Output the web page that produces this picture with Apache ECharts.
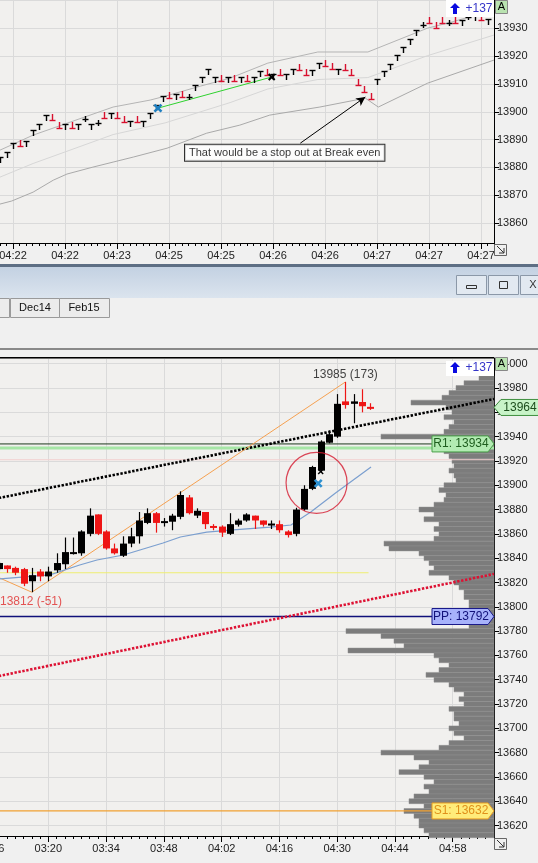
<!DOCTYPE html>
<html><head><meta charset="utf-8">
<script src="https://cdn.jsdelivr.net/npm/echarts@6/dist/echarts.min.js"></script>
<style>html,body{margin:0;padding:0;background:#f0f0f0;overflow:hidden}#c{width:538px;height:863px}</style>
</head><body><div id="c"></div>
<script>
// ---------------- TOP PANEL DATA ----------------
const topTickLabels = ['04:22','04:22','04:23','04:25','04:25','04:26','04:26','04:27','04:27','04:27'];
const topTickSlots  = [2,10,18,26,34,42,50,58,66,74];
// bar glyph level (price) and glyph type: T = up (black), L = down (red), + = doji
const topPrice = [13882.6,13884.4,13887.7,13888.7,13888.4,13892.3,13894.5,13897.7,13898.1,13895.2,
  13894.5,13895.2,13894.5,13897.4,13894.5,13895.9,13898.8,13898.5,13898.8,13897.4,
  13895.6,13897.4,13895.6,13898.5,13901.3,13904.6,13906.0,13905.3,13906.4,13905.3,
  13908.5,13911.4,13914.3,13911.4,13912.1,13911.4,13912.1,13911.4,13912.1,13911.4,
  13913.6,13914.3,13912.5,13914.3,13912.5,13914.3,13916.1,13914.3,13913.9,13916.4,
  13917.5,13916.4,13914.3,13916.1,13914.3,13910.7,13908.2,13905.6,13910.7,13913.6,
  13916.1,13919.3,13922.2,13925.1,13928.3,13931.2,13933.0,13931.2,13933.0,13931.9,
  13933.0,13931.9,13934.1,13933.7,13934.1,13932.3];
const topType = ['T','T','T','L','T','T','T','T','L','L','T','L','T','+','T','+','L','T','L','L',
  'T','L','T','T','T','T','L','T','L','+','T','T','T','T','L','T','L','T','L','T',
  'T','L','T','L','T','T','L','L','T','T','L','L','T','L','L','L','L','L','T','T',
  'T','T','T','T','T','+','L','L','L','+','L','T','+','T','L','T'];
const bandUpper = [[0,13886.2],[5.1,13891.6],[17.4,13901.7],[23.1,13904.2],[25.4,13905.6],[30.8,13909.2],[35.4,13912.1],[41.2,13917.5],[48.9,13921.5],[56.6,13921.5],[65.8,13930.1],[68.9,13931.9],[76,13936.6]];
const bandMid   = [[0,13876.5],[5.1,13881.4],[17.4,13891.8],[25.4,13896],[35.4,13903.3],[41.2,13908.2],[48.9,13911.6],[56.6,13912.3],[65.8,13920.2],[76,13927.6]];
const bandLower = [[0,13866.8],[1.8,13867.9],[5.1,13871.1],[8.2,13875.4],[10.3,13877.6],[14.3,13880.1],[17.4,13881.9],[20.5,13883.7],[25.7,13886.9],[31.8,13892.3],[36.9,13895.2],[41.5,13898.8],[49.2,13901.7],[56.2,13904.9],[58.2,13901.7],[65.8,13910.3],[76,13918.6]];
const topTrade = [[24.3,13901.3],[41.8,13912.5]];          // entry -> exit
const topArrow = [[46.2,13888.7],[56.2,13905.3]];
const topNote = {x:43.8, y:13885.3, text:'That would be a stop out at Break even'};

// ---------------- BOTTOM PANEL DATA ----------------
const botTickLabels = ['03:06','03:20','03:34','03:48','04:02','04:16','04:30','04:44','04:58'];
const botTickSlots  = [0,7,14,21,28,35,42,49,56];
// candles: [open, close, low, high]
const candles = [
 [13831,13836,13830,13837],[13834,13831,13828,13834],[13832,13828,13826,13833],[13831,13819,13817,13832],
 [13821,13826,13812,13832],[13829,13825,13821,13831],[13825,13829,13821,13833],[13830,13836,13828,13844],
 [13835,13845,13831,13857],[13844,13845,13843,13857],[13844,13862,13842,13863],[13860,13875,13858,13881],
 [13876,13860,13859,13876],[13862,13848,13847,13863],[13848,13844,13843,13852],[13842,13852,13841,13858],
 [13852,13858,13849,13865],[13858,13871,13852,13878],[13869,13877,13868,13881],[13877,13869,13861,13878],
 [13870,13870.5,13866,13873],[13870,13875,13863,13876.5],[13874,13892,13872,13895],[13890,13877,13876,13892],
 [13875,13879,13873,13881],[13878,13868,13864,13878],[13866.5,13866,13863,13868],[13866,13861,13857.5,13867],
 [13860,13868,13859,13877],[13867.5,13871,13866,13872.5],[13871,13876,13870,13877],[13875,13871,13864,13875],
 [13871,13867.5,13866,13871],[13868,13868.5,13864,13871],[13868,13863,13861,13871],[13862,13859,13857,13863],
 [13860,13880,13858,13881.5],[13880,13897,13879,13900],[13897,13915,13896,13916],[13912,13936,13910.5,13937],
 [13935,13942,13934.5,13945],[13940,13967,13939,13975],[13969,13966,13963,13985],[13967,13969,13951,13975],
 [13968.5,13965,13960,13979],[13964.5,13964,13962,13967.5]];
const maLine = [[0.15,13822.9],[6.2,13826.2],[9.8,13834.4],[11.9,13838.5],[15.1,13842.6],[17.1,13846.7],[19.9,13852.5],[22,13857.4],[25.2,13861.5],[28.4,13863.2],[32.9,13865.6],[35.4,13867.3],[37.8,13878],[40.8,13893.6],[45.1,13915]];
const zigzag = [[0,13824],[4,13812],[42,13985]];
const blackTrend = [[0,13889.5],[60,13971]];
const redTrend = [[0,13743],[60,13827]];
const yellowLine = [[-1,13828],[44.8,13828]];
const levels = {R1:13934, PP:13792, S1:13632};
const r1Band = 13930.6, pinkLevel = 13921, lastPrice = 13964;
const circleAt = [38.5,13902];
const entryBot = [38.7,13901.5], exitBot = [39,13911.3];
const lowLabel = {x:3.9, y:13804, text:'13812 (-51)'};
const highLabel = {x:42, y:13991, text:'13985 (173)'};
// volume profile rows: [price, length]
const profile = [
 [13988,15],[13984,30],[13980,38],[13976,45],[13972,52],[13968,83],[13964,48],[13960,42],[13956,50],[13952,40],
 [13948,45],[13944,50],[13940,113],[13936,60],[13932,55],[13928,50],[13924,45],[13920,42],[13916,40],[13912,45],
 [13908,40],[13904,38],[13900,50],[13896,55],[13892,48],[13888,50],[13884,60],[13880,75],[13876,60],[13872,70],
 [13868,55],[13864,60],[13860,55],[13856,60],[13852,110],[13848,105],[13844,75],[13840,70],[13836,65],[13832,60],
 [13828,65],[13824,45],[13820,40],[13816,35],[13812,30],[13808,30],[13804,25],[13800,25],[13796,25],[13792,20],
 [13788,20],[13784,25],[13780,148],[13776,113],[13772,100],[13768,90],[13764,146],[13760,60],[13756,55],[13752,45],
 [13748,55],[13744,68],[13740,60],[13736,45],[13732,40],[13728,30],[13724,35],[13720,30],[13716,45],[13712,40],
 [13708,40],[13704,35],[13700,45],[13696,40],[13692,30],[13688,45],[13684,55],[13680,113],[13676,80],[13672,65],
 [13668,75],[13664,95],[13660,70],[13656,60],[13652,70],[13648,65],[13644,80],[13640,85],[13636,70],[13632,90],
 [13628,80],[13624,75],[13620,75],[13616,70],[13612,65]];

// ---------------- build ----------------
const FONT = 'Liberation Sans';
const topCats = []; for (let i=0;i<=76;i++) topCats.push('t'+i);
const botCats = []; for (let i=0;i<62;i++) botCats.push('b'+i);
const topLab = {}; topTickSlots.forEach((s,k)=>topLab['t'+s]=topTickLabels[k]);
const botLab = {}; botTickSlots.forEach((s,k)=>botLab['b'+s]=botTickLabels[k]);
const isTopMajor = i => topTickSlots.indexOf(i) >= 0;
const isBotMajor = i => botTickSlots.indexOf(i) >= 0;

const chart = echarts.init(document.getElementById('c'));
const gridLineColor = '#dadada';

function catAxis(grid, cats, lab, isMajor, major){
  return {
    type:'category', gridIndex:grid, position:'bottom', data:cats, boundaryGap:false,
    axisLine:{show:!major, onZero:false, lineStyle:{color:'#000'}},
    axisTick:{show:true, interval: major ? ((i)=>isMajor(i)) : 0, length: major?6:3, lineStyle:{color:'#000'}},
    axisLabel:{show:!major, interval:(i)=>isMajor(i), formatter:(v)=>lab[v]||'', color:'#222', fontFamily:FONT, fontSize:11, margin:7},
    splitLine:{show:!major, interval:(i)=>isMajor(i), lineStyle:{color:gridLineColor}}
  };
}
function priceAxis(grid, min, max, split, hideAbove){
  return {type:'value', gridIndex:grid, position:'right', min, max, splitNumber:split,
    axisLine:{show:true, onZero:false, lineStyle:{color:'#000'}}, axisTick:{show:true, length:5, lineStyle:{color:'#000'}},
    axisLabel:{color:'#222', fontFamily:FONT, fontSize:11, margin:3, showMinLabel:false, showMaxLabel:false,
      formatter:(v)=> (v>hideAbove ? '' : String(Math.round(v)))},
    splitLine:{lineStyle:{color:gridLineColor}}};
}

const glyph = (params, api) => {
  const i = api.value(0), p = api.value(1), t = topType[params.dataIndex];
  const c = api.coord([i,p]); const x = Math.round(c[0])+0.5, y = Math.round(c[1]);
  const col = t==='L' ? '#d8102e' : '#000';
  let hy = t==='T' ? y-3 : (t==='L' ? y+3 : y);
  return {type:'group', children:[
    {type:'line', shape:{x1:x,y1:y-3,x2:x,y2:y+3}, style:{stroke:col,lineWidth:1.4}},
    {type:'line', shape:{x1:x-3,y1:hy+0.5,x2:x+3,y2:hy+0.5}, style:{stroke:col,lineWidth:1.4}}
  ]};
};
const xMark = (color, size, lw) => (params, api) => {
  const c = api.coord([api.value(0), api.value(1)]);
  return {type:'group', children:[
    {type:'line', shape:{x1:c[0]-size,y1:c[1]-size,x2:c[0]+size,y2:c[1]+size}, style:{stroke:color,lineWidth:lw}},
    {type:'line', shape:{x1:c[0]-size,y1:c[1]+size,x2:c[0]+size,y2:c[1]-size}, style:{stroke:color,lineWidth:lw}}
  ]};
};
const candle = (params, api) => {
  const i=api.value(0), o=api.value(1), cl=api.value(2), lo=api.value(3), hi=api.value(4);
  const pO=api.coord([i,o]), pC=api.coord([i,cl]), pL=api.coord([i,lo]), pH=api.coord([i,hi]);
  const up = cl>=o, col = up ? '#000' : '#ee1515';
  const x = Math.round(pO[0])+0.5;
  const top = Math.min(pO[1],pC[1]); const h = Math.max(Math.abs(pO[1]-pC[1]), 2);
  return {type:'group', children:[
    {type:'line', shape:{x1:x,y1:pH[1],x2:x,y2:pL[1]}, style:{stroke:col,lineWidth:1.2}},
    {type:'rect', shape:{x:x-3.5,y:top,width:7,height:h}, style:{fill:col}}
  ]};
};
const profRow = (params, api) => {
  const p=api.value(0), len=api.value(1);
  const a=api.coord([len,p+2]), b=api.coord([0,p-2]);
  return {type:'rect', shape:{x:a[0],y:a[1],width:b[0]-a[0],height:b[1]-a[1]}, style:{fill:'#7c7c7c', stroke:'#8e8e8e', lineWidth:0.5}};
};
const lineS = (x,y,data,color,w,type,z) => ({type:'line', xAxisIndex:x, yAxisIndex:y, data, symbol:'none', silent:true, z:z||3,
  lineStyle:{color, width:w, type:type||'solid'}, animation:false});
const labelS = (x,y,pt,color,extra) => ({type:'scatter', xAxisIndex:x, yAxisIndex:y, symbolSize:1, itemStyle:{color:'transparent'}, z:8,
  data:[[pt.x,pt.y]], label:Object.assign({show:true, position:'inside', formatter:pt.text, color, fontFamily:FONT, fontSize:12}, extra||{})});

const option = {
  animation:false,
  backgroundColor:'#f0f0f0',
  grid:[
    {left:0, right:44, top:0, height:243, show:true, backgroundColor:'#f1f0ee', borderWidth:0, outerBoundsMode:'none', containLabel:false},
    {left:-9.45, right:44, top:358, height:478, show:true, backgroundColor:'#f1f0ee', borderWidth:0, outerBoundsMode:'none', containLabel:false}
  ],
  xAxis:[
    catAxis(0, topCats, topLab, isTopMajor, false),
    catAxis(0, topCats, topLab, isTopMajor, true),
    {type:'value', gridIndex:0, min:0, max:76, show:false, position:'bottom'},
    catAxis(1, botCats, botLab, isBotMajor, false),
    catAxis(1, botCats, botLab, isBotMajor, true),
    {type:'value', gridIndex:1, min:-1, max:60, show:false, position:'bottom'},
    {type:'value', gridIndex:1, min:0, max:503.45, inverse:true, show:false, position:'top'}
  ],
  yAxis:[
    priceAxis(0, 13852.8, 13940.2, 9, 13935),
    priceAxis(1, 13611.4, 14004.7, 20, 14001)
  ],
  series:[
    // top panel
    lineS(2,0,bandLower,'#a9a9a9',1),
    lineS(2,0,bandMid,'#d6d6d6',1),
    lineS(2,0,bandUpper,'#b4b4b4',1),
    lineS(2,0,topTrade,'#2fd22f',1,'solid',4),
    {type:'custom', xAxisIndex:2, yAxisIndex:0, renderItem:glyph, z:5, data:topPrice.map((p,i)=>[i,p])},
    {type:'custom', xAxisIndex:2, yAxisIndex:0, renderItem:xMark('#1f7fc0',3.5,2.6), z:6, data:[topTrade[0]]},
    {type:'custom', xAxisIndex:2, yAxisIndex:0, renderItem:xMark('#000',3,2), z:6, data:[topTrade[1]]},
    {type:'line', xAxisIndex:2, yAxisIndex:0, data:[], z:6,
     markLine:{silent:true, symbol:['none','arrow'], symbolSize:[7,9], label:{show:false},
       lineStyle:{color:'#000', width:1, type:'solid'},
       data:[[{coord:topArrow[0]},{coord:topArrow[1]}]]}},
    labelS(2,0,topNote,'#000',{fontSize:11, backgroundColor:'#fff', borderColor:'#000', borderWidth:1, padding:[3,4,2,4]}),
    // bottom panel
    {type:'custom', xAxisIndex:6, yAxisIndex:1, renderItem:profRow, encode:{x:1,y:0}, z:1, data:profile},
    lineS(5,1,[[-1,pinkLevel],[60,pinkLevel]],'#f3d0d0',1,'solid',2),
    lineS(5,1,[[-1,r1Band],[60,r1Band]],'#a6e6a6',3,'solid',2),
    lineS(5,1,[[-1,levels.R1],[60,levels.R1]],'#1e3a1e',1,'solid',2),
    lineS(5,1,[[-1,levels.PP],[60,levels.PP]],'#10107a',1.3,'solid',2),
    lineS(5,1,[[-1,levels.S1],[60,levels.S1]],'#f0a030',1.3,'solid',2),
    lineS(5,1,yellowLine,'#eeee70',1,'solid',2),
    lineS(5,1,blackTrend,'#000',2.6,[2.4,1.6],3),
    lineS(5,1,redTrend,'#dd1133',2.6,[2.4,1.6],3),
    lineS(5,1,zigzag,'#f5a050',1,'solid',3),
    lineS(5,1,maLine,'#7b9fcf',1.2,'solid',3),
    {type:'custom', xAxisIndex:5, yAxisIndex:1, renderItem:candle, z:5, data:candles.map((c,i)=>[i].concat(c))},
    {type:'scatter', xAxisIndex:5, yAxisIndex:1, z:7, symbol:'circle', symbolSize:61, data:[circleAt],
     itemStyle:{color:'transparent', borderColor:'#d41a30', borderWidth:1.2}},
    {type:'custom', xAxisIndex:5, yAxisIndex:1, renderItem:xMark('#2a8fd0',3.5,2.6), z:8, data:[entryBot]},
    {type:'custom', xAxisIndex:5, yAxisIndex:1, renderItem:xMark('#000',2.5,1.4), z:8, data:[exitBot]},
    labelS(5,1,lowLabel,'#e02a2a'),
    labelS(5,1,highLabel,'#111')
  ]
};
chart.setOption(option);

// ---------- graphics: window chrome + level tags ----------
const Y1 = v => chart.convertToPixel({yAxisIndex:1}, v);
const Z = 60;
function txt(x,y,text,fill,size,align){
  return {type:'text', z:Z+2, x, y, style:{text, fill, font:(size||12)+'px '+FONT, textAlign:align||'center', textVerticalAlign:'middle'}};
}
function tagRight(y, text, fill, stroke, color){
  return [
    {type:'polygon', z:Z, shape:{points:[[432,y-8],[488,y-8],[494,y],[488,y+8],[432,y+8]]}, style:{fill, stroke, lineWidth:1}},
    txt(461, y, text, color, 12)
  ];
}
const yl = Y1(lastPrice);
const g = [
  // top panel extras
  {type:'rect', z:Z, shape:{x:446,y:0,width:48,height:17}, style:{fill:'#fff'}},
  {type:'polygon', z:Z+1, shape:{points:[[455,3],[460,8],[457,8],[457,14],[453,14],[453,8],[450,8]]}, style:{fill:'#0a0ae0'}},
  txt(479, 9, '+137', '#3535c8', 12),
  {type:'rect', z:Z+1, shape:{x:495.5,y:0.5,width:12,height:13}, style:{fill:'#b9e3b0', stroke:'#888'}},
  txt(501.5, 7, 'A', '#000', 11),
  {type:'rect', z:Z+1, shape:{x:494.5,y:244.5,width:12,height:11}, style:{fill:'#f0f0f0', stroke:'#666'}},
  {type:'line', z:Z+2, shape:{x1:497,y1:246,x2:504,y2:253}, style:{stroke:'#333', lineWidth:1}},
  {type:'polyline', z:Z+2, shape:{points:[[499,253],[504,253],[504,248]]}, style:{stroke:'#333', lineWidth:1}},
  // window chrome
  {type:'rect', z:Z, shape:{x:0,y:264,width:538,height:3}, style:{fill:'#5d6e84'}},
  {type:'rect', z:Z, shape:{x:0,y:267,width:538,height:31}, style:{fill:new echarts.graphic.LinearGradient(0,0,0,1,[{offset:0,color:'#c3d1e2'},{offset:1,color:'#dbe4ee'}])}},
  {type:'rect', z:Z+1, shape:{x:456.5,y:275.5,width:30,height:19}, style:{fill:'#e2e9f1', stroke:'#8b98a8'}},
  {type:'rect', z:Z+2, shape:{x:466.5,y:285.5,width:10,height:3}, style:{fill:'none', stroke:'#333'}},
  {type:'rect', z:Z+1, shape:{x:488.5,y:275.5,width:30,height:19}, style:{fill:'#e2e9f1', stroke:'#8b98a8'}},
  {type:'rect', z:Z+2, shape:{x:499.5,y:281.5,width:8,height:7}, style:{fill:'none', stroke:'#333'}},
  {type:'rect', z:Z+1, shape:{x:520.5,y:275.5,width:30,height:19}, style:{fill:'#e2e9f1', stroke:'#8b98a8'}},
  txt(533, 285, 'X', '#333', 11),
  {type:'rect', z:Z, shape:{x:-10.5,y:298.5,width:20,height:19}, style:{fill:'#ececec', stroke:'#9a9a9a'}},
  {type:'rect', z:Z, shape:{x:10.5,y:298.5,width:49,height:19}, style:{fill:'#ececec', stroke:'#9a9a9a'}},
  txt(35, 308, 'Dec14', '#111', 11),
  {type:'rect', z:Z, shape:{x:59.5,y:298.5,width:50,height:19}, style:{fill:'#ececec', stroke:'#9a9a9a'}},
  txt(84, 308, 'Feb15', '#111', 11),
  {type:'rect', z:Z, shape:{x:0,y:348,width:538,height:2}, style:{fill:'#8a8a8a'}},
  {type:'rect', z:Z, shape:{x:0,y:357,width:494,height:1.5}, style:{fill:'#000'}},
  // bottom panel extras
  {type:'rect', z:Z, shape:{x:446,y:361,width:48,height:15}, style:{fill:'#fff'}},
  {type:'polygon', z:Z+1, shape:{points:[[455,362],[460,367],[457,367],[457,373],[453,373],[453,367],[450,367]]}, style:{fill:'#0a0ae0'}},
  txt(479, 368, '+137', '#3535c8', 12),
  {type:'rect', z:Z+1, shape:{x:495.5,y:357.5,width:12,height:13}, style:{fill:'#b9e3b0', stroke:'#888'}},
  txt(501.5, 364, 'A', '#000', 11),
  {type:'rect', z:Z+1, shape:{x:494.5,y:838.5,width:12,height:11}, style:{fill:'#f0f0f0', stroke:'#666'}},
  {type:'line', z:Z+2, shape:{x1:497,y1:840,x2:504,y2:847}, style:{stroke:'#333', lineWidth:1}},
  {type:'polyline', z:Z+2, shape:{points:[[499,847],[504,847],[504,842]]}, style:{stroke:'#333', lineWidth:1}}
].concat(
  tagRight(Y1(levels.R1), 'R1: 13934', '#b3ebb3', '#4aa04a', '#1f5e1f'),
  tagRight(Y1(levels.PP), 'PP: 13792', '#a7b2fb', '#1a1a8a', '#12127a'),
  tagRight(Y1(levels.S1), 'S1: 13632', '#ffec7a', '#e79a20', '#e0901a'),
  [{type:'polygon', z:Z, shape:{points:[[494,yl],[501,yl-8],[540,yl-8],[540,yl+8],[501,yl+8]]}, style:{fill:'#c8f3c8', stroke:'#3f8f3f', lineWidth:1}},
   txt(520, yl, String(lastPrice), '#1d4d1d', 12)]
);
chart.setOption({graphic:{elements:g}});
</script></body></html>
